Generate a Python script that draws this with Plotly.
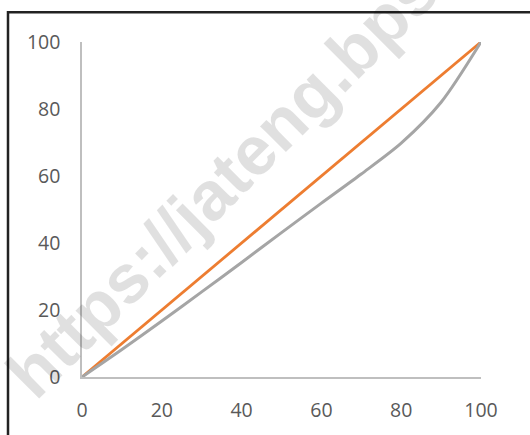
import plotly.graph_objects as go

# Cumulative share of population (%) and cumulative share of expenditure (%)
population_pct = [0, 10, 20, 30, 40, 50, 60, 70, 80, 90, 100]
lorenz_pct = [0, 8.2, 16.7, 25.4, 34.2, 43.1, 51.9, 60.6, 69.8, 82.0, 100]

# Line of perfect equality
equality_x = [0, 100]
equality_y = [0, 100]

tick_vals = [0, 20, 40, 60, 80, 100]
tick_text = ["0", "20", "40", "60", "80", "100"]

W, H = 530, 435
ML, MR, MT, MB = 82, 49, 42, 55
PW, PH = W - ML - MR, H - MT - MB


def px_to_paper(px, py):
    return (px - ML) / PW, (H - MB - py) / PH


fig = go.Figure()
fig.add_trace(go.Scatter(
    x=equality_x, y=equality_y, mode="lines",
    line=dict(color="#ED7D31", width=2.8),
    showlegend=False, hoverinfo="skip",
))
fig.add_trace(go.Scatter(
    x=population_pct, y=lorenz_pct, mode="lines",
    line=dict(color="#A5A5A5", width=3, shape="spline", smoothing=0.8),
    showlegend=False, hoverinfo="skip",
))

tick_font = dict(family="Open Sans, sans-serif", size=19.5, color="#595959")

fig.update_xaxes(
    range=[0, 100], tickvals=tick_vals, ticktext=tick_text,
    showgrid=False, zeroline=False, showline=True,
    linecolor="#BFBFBF", linewidth=1.5, ticks="",
    tickfont=tick_font, ticklabelstandoff=15,
)
fig.update_yaxes(
    range=[0, 100], tickvals=tick_vals, ticktext=tick_text,
    showgrid=False, zeroline=False, showline=True,
    linecolor="#BFBFBF", linewidth=1.5, ticks="",
    tickfont=tick_font, ticklabelstandoff=16,
)

# Outer frame
fx0, fy0 = px_to_paper(8, 12)
fx1, fy1 = px_to_paper(W + 20, H + 20)
fig.add_shape(
    type="rect", xref="paper", yref="paper",
    x0=fx0, y0=fy1, x1=fx1, y1=fy0,
    line=dict(color="#222222", width=2.5), fillcolor="rgba(0,0,0,0)",
    layer="above",
)

# Diagonal site watermark
wx, wy = px_to_paper(287, 118)
fig.add_annotation(
    text="<b>https://jateng.bps.go.id</b>",
    xref="paper", yref="paper", x=wx, y=wy,
    xanchor="center", yanchor="middle", textangle=-45,
    showarrow=False,
    font=dict(family="Liberation Sans, Arial, sans-serif", size=69,
              color="rgba(0,0,0,0.12)"),
)

fig.update_layout(
    width=W, height=H,
    margin=dict(l=ML, r=MR, t=MT, b=MB),
    paper_bgcolor="white", plot_bgcolor="white",
    showlegend=False,
)

fig.write_html("out.html")
